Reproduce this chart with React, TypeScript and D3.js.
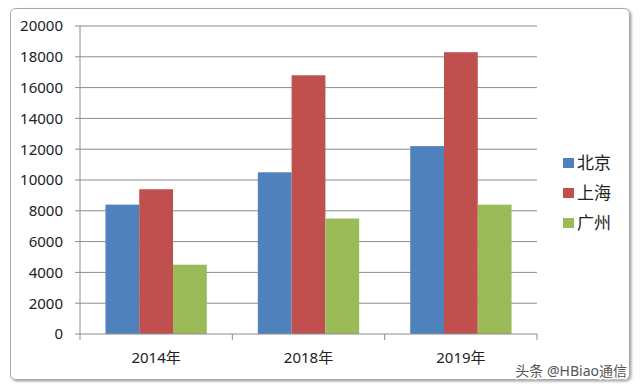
import * as d3 from 'd3';

const YEARS = ['2014年', '2018年', '2019年'];
const SERIES = ['北京', '上海', '广州'];
const BEIJING = [8400, 10500, 12200];
const SHANGHAI = [9400, 16800, 18300];
const GUANGZHOU = [4500, 7500, 8400];
const Y_TICKS = [0, 2000, 4000, 6000, 8000, 10000, 12000, 14000, 16000, 18000, 20000];
const COLORS = ['#4F81BD', '#C0504D', '#9BBB59'];

const W = 640;
const H = 387;
const FONT = '"Noto Sans", "Noto Sans CJK SC", sans-serif';

export default function App() {
  const margin = {left: 80, right: 103, top: 26, bottom: 53};
  const plotW = W - margin.left - margin.right;
  const plotH = H - margin.top - margin.bottom;

  const x0 = d3.scaleBand().domain(YEARS).range([0, plotW]).paddingInner(0.335).paddingOuter(0.167);
  const x1 = d3.scaleBand().domain(SERIES).range([0, x0.bandwidth()]);
  const y = d3.scaleLinear().domain([0, 20000]).range([plotH, 0]);

  const values = [BEIJING, SHANGHAI, GUANGZHOU];
  const step = plotW / YEARS.length;

  return (
    <svg width={W} height={H} style={{position: 'absolute', left: 0, top: 0}}>
      <defs>
        <filter id="sh" x="-5%" y="-5%" width="110%" height="110%">
          <feDropShadow dx="1.5" dy="1.5" stdDeviation="1" floodColor="#000" floodOpacity="0.35" />
        </filter>
      </defs>
      <rect x={10.5} y={8.5} width={619} height={371} rx={5} fill="#fff" stroke="#a6a6a6" strokeWidth={1} filter="url(#sh)" />
      <g transform={`translate(${margin.left},${margin.top})`} fontFamily={FONT}>
        {Y_TICKS.map((t) => (
          <g key={t}>
            {t > 0 && <line x1={-5} x2={plotW} y1={y(t)} y2={y(t)} stroke="#8c8c8c" strokeWidth={1} />}
            <text x={-17} y={y(t)} dy="0.36em" textAnchor="end" fontSize={15} fill="#222">{t}</text>
          </g>
        ))}
        {values.map((series, si) => series.map((v, i) => (
          <rect key={`${si}-${i}`}
            x={(x0(YEARS[i]) ?? 0) + (x1(SERIES[si]) ?? 0)}
            y={y(v)}
            width={x1.bandwidth()}
            height={plotH - y(v)}
            fill={COLORS[si]} />
        )))}
        <line x1={0} x2={0} y1={0} y2={plotH} stroke="#8c8c8c" />
        <line x1={-5} x2={plotW} y1={plotH} y2={plotH} stroke="#8c8c8c" />
        {d3.range(YEARS.length + 1).map((k) => (
          <line key={k} x1={k * step} x2={k * step} y1={plotH} y2={plotH + 6} stroke="#8c8c8c" />
        ))}
        {YEARS.map((yr) => (
          <text key={yr} x={(x0(yr) ?? 0) + x0.bandwidth() / 2} y={plotH + 29} textAnchor="middle" fontSize={15} fill="#222">{yr}</text>
        ))}
      </g>
      <g fontFamily={FONT}>
        {SERIES.map((s, i) => (
          <g key={s} transform={`translate(563,${158 + i * 30})`}>
            <rect width={11} height={10} fill={COLORS[i]} />
            <text x={14} y={5} dy="0.38em" fontSize={17} fill="#222">{s}</text>
          </g>
        ))}
        <text x={627} y={376} textAnchor="end" fontSize={14} fill="#fff" stroke="#fff" strokeWidth={3}>头条 @HBiao通信</text>
        <text x={627} y={376} textAnchor="end" fontSize={14} fill="#555">头条 @HBiao通信</text>
      </g>
    </svg>
  );
}
